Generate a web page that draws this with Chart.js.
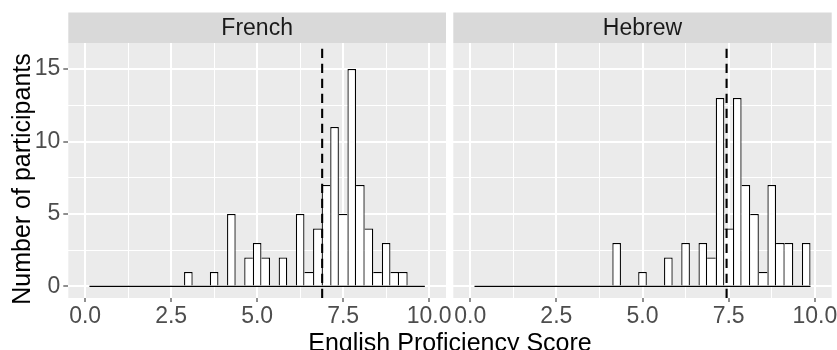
<!DOCTYPE html>
<html>
<head>
<meta charset="utf-8">
<script src="https://cdn.jsdelivr.net/npm/chart.js@4/dist/chart.umd.min.js"></script>
<style>
  html, body { margin: 0; padding: 0; background: #fff; }
  #wrap { position: relative; width: 837px; height: 350px; overflow: hidden; }
  #wrap canvas { position: absolute; top: 0; }
  #xtitle {
    position: absolute; left: 68px; width: 764px; top: 330px;
    text-align: center; font-family: "Liberation Sans", Arial, sans-serif;
    font-size: 25px; line-height: 25px; color: #000; white-space: nowrap;
  }
</style>
</head>
<body>
<div id="wrap">
  <canvas id="panelFrench" width="470" height="350" style="left:0"></canvas>
  <canvas id="panelHebrew" width="391" height="350" style="left:446px"></canvas>
  <div id="xtitle">English Proficiency Score</div>
</div>
<script>
// Histogram bins (centres, width 0.25) shared by both panels
const binCenters = [
  0.25, 0.5, 0.75, 1.0, 1.25, 1.5, 1.75, 2.0, 2.25, 2.5,
  2.75, 3.0, 3.25, 3.5, 3.75, 4.0, 4.25, 4.5, 4.75, 5.0,
  5.25, 5.5, 5.75, 6.0, 6.25, 6.5, 6.75, 7.0, 7.25, 7.5,
  7.75, 8.0, 8.25, 8.5, 8.75, 9.0, 9.25, 9.5, 9.75
];

// Participants per bin
const frenchCounts = [
  0, 0, 0, 0, 0, 0, 0, 0, 0, 0,
  0, 1, 0, 0, 1, 0, 5, 0, 2, 3,
  2, 0, 2, 0, 5, 1, 4, 7, 11, 5,
  15, 7, 4, 1, 3, 1, 1, 0, 0
];
const hebrewCounts = [
  0, 0, 0, 0, 0, 0, 0, 0, 0, 0,
  0, 0, 0, 0, 0, 0, 3, 0, 0, 1,
  0, 0, 2, 0, 3, 0, 3, 2, 13, 4,
  13, 7, 5, 1, 7, 3, 3, 0, 3
];

// Group means (dashed reference lines)
const frenchMean = 6.89;
const hebrewMean = 7.44;

const panelNames = ["French", "Hebrew"];
const yTitle = "Number of participants";

// Axis breaks
const xMajorTicks = [0, 2.5, 5, 7.5, 10];
const xMinorTicks = [1.25, 3.75, 6.25, 8.75];
const yMajorTicks = [0, 5, 10, 15];
const yMinorTicks = [2.5, 7.5, 12.5];
const xLimits = [-0.49, 10.49];
const yLimits = [-0.8, 16.8];

const FONT = '"Liberation Sans", Arial, sans-serif';
const STRIP_TOP = 12.5;
const EDGE = 1.25;

// Grey panel background, facet strip with its label, optional y title
const panelDecor = {
  id: "panelDecor",
  beforeDraw(chart, args, opts) {
    const { ctx, chartArea: a } = chart;
    ctx.save();
    ctx.fillStyle = "#EBEBEB";
    ctx.fillRect(a.left, a.top, a.right - a.left, a.bottom - a.top);
    ctx.fillStyle = "#D9D9D9";
    ctx.fillRect(a.left, STRIP_TOP, a.right - a.left, a.top - STRIP_TOP);
    ctx.fillStyle = "#1A1A1A";
    ctx.font = "23px " + FONT;
    ctx.textAlign = "center";
    ctx.textBaseline = "middle";
    ctx.fillText(opts.label, (a.left + a.right) / 2, (STRIP_TOP + a.top) / 2 + 0.5);
    if (opts.yTitle) {
      ctx.translate(29.5, (a.top + a.bottom) / 2 + 8.5);
      ctx.rotate(-Math.PI / 2);
      ctx.fillStyle = "#000";
      ctx.font = "25px " + FONT;
      ctx.textBaseline = "alphabetic";
      ctx.fillText(opts.yTitle, 0, 0);
    }
    ctx.restore();
  }
};

const isMajor = (list, v) => list.some(t => Math.abs(t - v) < 1e-9);
const tickIsMajor = (list, c) => !!(c && c.tick && isMajor(list, c.tick.value));

function makePanel(canvasId, name, counts, mean, layout) {
  const binWidth = binCenters[1] - binCenters[0];
  const barData = binCenters.map((c, i) => ({ x: c, y: counts[i] }));
  const baseline = [
    { x: binCenters[0] - binWidth / 2, y: 0 },
    { x: binCenters[binCenters.length - 1] + binWidth / 2, y: 0 }
  ];
  const meanLine = [{ x: mean, y: yLimits[0] }, { x: mean, y: yLimits[1] }];

  // Draw each shared bar edge once, from the taller neighbour
  const edgeWidths = ctx => {
    const i = ctx.dataIndex;
    const cur = counts[i] || 0;
    const prev = i > 0 ? counts[i - 1] : 0;
    const next = i < counts.length - 1 ? counts[i + 1] : 0;
    return { top: EDGE, bottom: 0, left: prev < cur ? EDGE : 0, right: next <= cur ? EDGE : 0 };
  };

  return new Chart(document.getElementById(canvasId), {
    type: "bar",
    data: {
      datasets: [
        {
          type: "line", data: meanLine, order: 0,
          borderColor: "#000", borderWidth: 2.1, borderDash: [9.2, 5.8],
          pointRadius: 0, tension: 0
        },
        {
          type: "line", data: baseline, order: 1,
          borderColor: "#000", borderWidth: 1.2, pointRadius: 0, tension: 0
        },
        {
          type: "bar", data: barData, order: 2,
          backgroundColor: "#FFFFFF", borderColor: "#000",
          borderWidth: edgeWidths, borderSkipped: false,
          barPercentage: 1, categoryPercentage: 1, grouped: false,
          inflateAmount: 0
        }
      ]
    },
    options: {
      responsive: false,
      animation: false,
      devicePixelRatio: 1,
      layout: { padding: { top: 43, left: 0, right: layout.padRight, bottom: 0 } },
      plugins: {
        legend: { display: false },
        tooltip: { enabled: false },
        panelDecor: { label: name, yTitle: layout.showY ? yTitle : null }
      },
      scales: {
        x: {
          type: "linear",
          offset: false,
          min: xLimits[0], max: xLimits[1],
          afterBuildTicks: s => {
            s.ticks = [...xMinorTicks, ...xMajorTicks].sort((a, b) => a - b).map(v => ({ value: v }));
          },
          ticks: {
            autoSkip: false, maxRotation: 0, minRotation: 0, padding: 1,
            color: "#4D4D4D", font: { family: FONT, size: 23 },
            callback: v => isMajor(xMajorTicks, v) ? v.toFixed(1) : ""
          },
          grid: {
            offset: false,
            color: "#FFFFFF",
            lineWidth: c => tickIsMajor(xMajorTicks, c) ? 2 : 1,
            tickColor: c => tickIsMajor(xMajorTicks, c) ? "#333333" : "rgba(0,0,0,0)",
            tickWidth: 1.1, tickLength: 4
          },
          border: { display: false },
          afterFit: s => { s.height = 52; s.paddingLeft = 0; s.paddingRight = 0; }
        },
        y: {
          type: "linear",
          min: yLimits[0], max: yLimits[1],
          afterBuildTicks: s => {
            s.ticks = [...yMinorTicks, ...yMajorTicks].sort((a, b) => a - b).map(v => ({ value: v }));
          },
          ticks: {
            display: layout.showY, padding: 3,
            color: "#4D4D4D", font: { family: FONT, size: 23 },
            callback: v => isMajor(yMajorTicks, v) ? String(v) : ""
          },
          grid: {
            color: "#FFFFFF",
            lineWidth: c => tickIsMajor(yMajorTicks, c) ? 2 : 1,
            drawTicks: layout.showY,
            tickColor: c => tickIsMajor(yMajorTicks, c) ? "#333333" : "rgba(0,0,0,0)",
            tickWidth: 1.1, tickLength: 5
          },
          border: { display: false },
          afterFit: s => { s.width = layout.yWidth; s.paddingTop = 0; s.paddingBottom = 0; }
        }
      }
    },
    plugins: [panelDecor]
  });
}

makePanel("panelFrench", panelNames[0], frenchCounts, frenchMean,
  { showY: true, yWidth: 68.3, padRight: 24 });
makePanel("panelHebrew", panelNames[1], hebrewCounts, hebrewMean,
  { showY: false, yWidth: 7.3, padRight: 5.3 });
</script>
</body>
</html>
